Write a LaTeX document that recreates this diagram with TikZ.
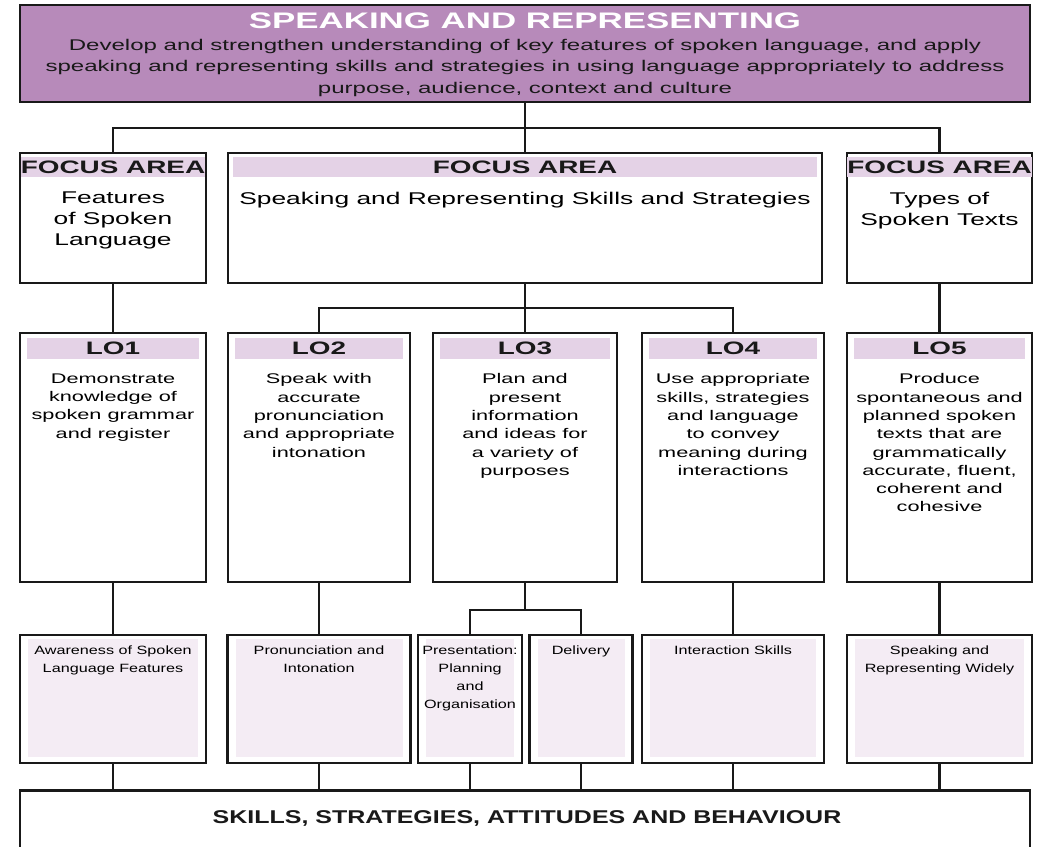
\documentclass[tikz,border=0pt]{standalone}
\usepackage{fontspec}
\setmainfont{Liberation Sans}[FakeStretch=1.35]
\newfontfamily\widefont{Liberation Sans}[FakeStretch=1.55]
\definecolor{mauve}{RGB}{183,138,186}
\definecolor{bandc}{RGB}{228,210,230}
\definecolor{palec}{RGB}{244,236,244}
\definecolor{inkc}{RGB}{25,25,25}
\begin{document}
\begin{tikzpicture}[x=1pt,y=-1pt,
  box/.style={draw=inkc, line width=2.6pt, inner sep=0pt},
  link/.style={draw=inkc, line width=2.3pt},
  band/.style={fill=bandc, inner sep=0pt, text=inkc},
  softfill/.style={fill=palec, inner sep=0pt},
  headfont/.style={font=\widefont\bfseries\fontsize{18}{18}\selectfont},
  lohead/.style={font=\widefont\bfseries\fontsize{18}{18}\selectfont},
  fabody/.style={anchor=north, align=center, inner sep=0pt, font=\widefont\fontsize{17}{20.7}\selectfont},
  lobody/.style={anchor=north, align=center, inner sep=0pt, font=\widefont\fontsize{14}{18.3}\selectfont},
  subbody/.style={anchor=north, align=center, inner sep=0pt, font=\fontsize{12}{18}\selectfont},
]
\useasboundingbox (0,0) rectangle (1048,846);
\clip (0,0) rectangle (1048,846);
\fill[white] (0,0) rectangle (1048,846);

% --- overall goal ---
\node[box, fill=mauve, minimum width=1010, minimum height=97] (top) at (525,53.5) {};
\node[font=\widefont\bfseries\fontsize{22.5}{22.5}\selectfont, text=white] (title) at (525,21) {SPEAKING AND REPRESENTING};
\node[anchor=north, align=center, inner sep=0pt, font=\widefont\fontsize{15.5}{21.5}\selectfont, text=inkc] (goal) at (525,39)
  {Develop and strengthen understanding of key features of spoken language, and apply\\
   speaking and representing skills and strategies in using language appropriately to address\\
   purpose, audience, context and culture};

% --- focus areas ---
\node[box, minimum width=186, minimum height=130] (fa1) at (113,218) {};
\node[box, minimum width=594, minimum height=130] (fa2) at (525,218) {};
\node[box, minimum width=185, minimum height=130] (fa3) at (939.5,218) {};
\node[band, minimum width=178, minimum height=20, headfont] (fa1h) at (113,167) {FOCUS AREA};
\node[band, minimum width=584, minimum height=20, headfont] (fa2h) at (525,167) {FOCUS AREA};
\node[band, minimum width=177, minimum height=20, headfont] (fa3h) at (939.5,167) {FOCUS AREA};
\node[fabody] (fa1t) at (113,192) {Features\\of Spoken\\Language};
\node[fabody] (fa2t) at (525,192) {Speaking and Representing Skills and Strategies};
\node[fabody] (fa3t) at (939.5,192) {Types of\\Spoken Texts};

% --- learning outcomes ---
\foreach \n/\cx/\w in {1/113/186, 2/319/182, 3/525/184, 4/733/182, 5/939.5/185}{
  \node[box, minimum width=\w, minimum height=249] (lo\n) at (\cx,457.5) {};
  \node[band, minimum width=\w-14, minimum height=21, lohead] (lo\n h) at (\cx,348.5) {LO\n};
}
\node[lobody] (lo1t) at (113,373.5) {Demonstrate\\knowledge of\\spoken grammar\\and register};
\node[lobody] (lo2t) at (319,373.5) {Speak with\\accurate\\pronunciation\\and appropriate\\intonation};
\node[lobody] (lo3t) at (525,373.5) {Plan and\\present\\information\\and ideas for\\a variety of\\purposes};
\node[lobody] (lo4t) at (733,373.5) {Use appropriate\\skills, strategies\\and language\\to convey\\meaning during\\interactions};
\node[lobody] (lo5t) at (939.5,373.5) {Produce\\spontaneous and\\planned spoken\\texts that are\\grammatically\\accurate, fluent,\\coherent and\\cohesive};

% --- strands under each outcome ---
\foreach \n/\cx/\w in {1/113/186, 2/319/183, 3/470/104, 4/581/103, 5/733/182, 6/939.5/185}{
  \node[softfill, minimum width=\w-16, minimum height=118] (s\n f) at (\cx,698) {};
  \node[box, minimum width=\w, minimum height=128] (s\n) at (\cx,699) {};
}
\node[subbody] (s1t) at (113,646) {Awareness of Spoken\\Language Features};
\node[subbody] (s2t) at (319,646) {Pronunciation and\\Intonation};
\node[subbody] (s3t) at (470,646) {Presentation:\\Planning\\and\\Organisation};
\node[subbody] (s4t) at (581,646) {Delivery};
\node[subbody] (s5t) at (733,646) {Interaction Skills};
\node[subbody] (s6t) at (939.5,646) {Speaking and\\Representing Widely};

% --- base ---
\node[box, anchor=north, minimum width=1010, minimum height=120] (base) at (525,789) {};
\node[font=\bfseries\fontsize{18.5}{18.5}\selectfont, text=inkc] (baset) at (527,818) {SKILLS, STRATEGIES, ATTITUDES AND BEHAVIOUR};

% --- connectors ---
\coordinate (topsplit) at (525,128);
\coordinate (losplit) at (525,308);
\coordinate (lo3split) at (525,610);
\draw[link] (top.south) -- (fa2.north);
\draw[link] (fa1.north) |- (topsplit) -| (fa3.north);
\draw[link] (fa1.south) -- (lo1.north);
\draw[link] (fa2.south) -- (lo3.north);
\draw[link] (lo2.north) |- (losplit) -| (lo4.north);
\draw[link] (fa3.south) -- (lo5.north);
\draw[link] (lo1.south) -- (s1.north);
\draw[link] (lo2.south) -- (s2.north);
\draw[link] (lo3.south) -- (lo3split);
\draw[link] (s3.north) |- (lo3split) -| (s4.north);
\draw[link] (lo4.south) -- (s5.north);
\draw[link] (lo5.south) -- (s6.north);
\foreach \n in {1,...,6}{
  \draw[link] (s\n.south) -- (s\n.south |- base.north);
}
\end{tikzpicture}
\end{document}
